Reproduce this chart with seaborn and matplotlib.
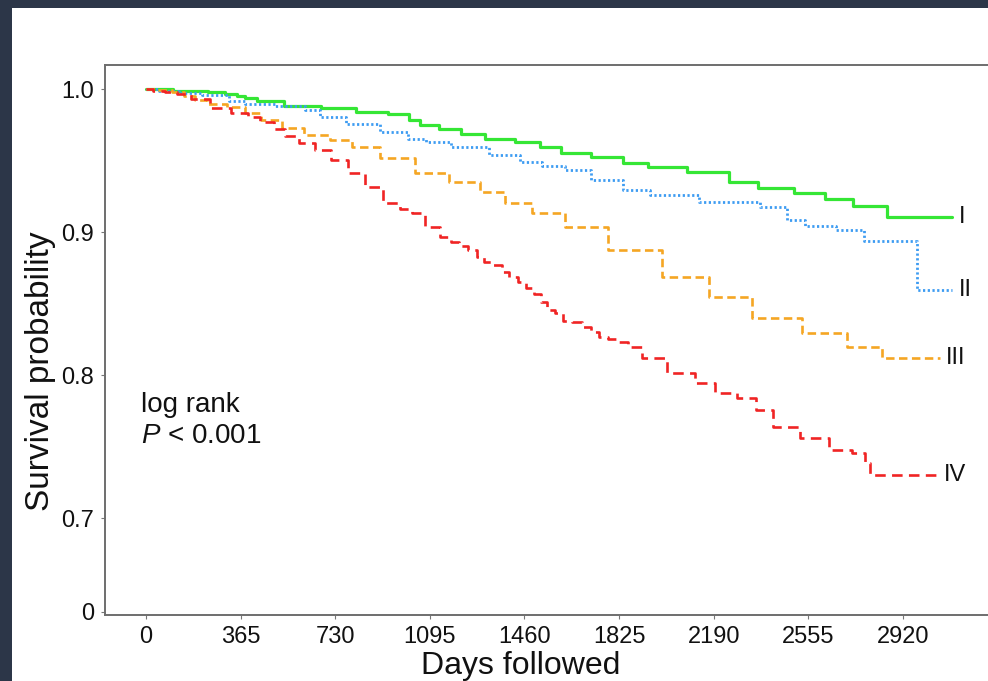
import numpy as np
import pandas as pd
import matplotlib
matplotlib.use("Agg")
import matplotlib.pyplot as plt
import seaborn as sns
from matplotlib.patches import Rectangle

# ---------------- data ----------------
stages = ["I", "II", "III", "IV"]

days_I = [0, 208, 274, 336, 363, 401, 459, 606, 748, 876, 992, 1038, 1076, 1184, 1250,
          1366, 1481, 1559, 1644, 1790, 1887, 1983, 2188, 2311, 2407, 2589, 2650, 2801,
          2855, 2859, 3110]
surv_I = [1.0, 0.999, 0.998, 0.997, 0.9957, 0.9943, 0.992, 0.9887, 0.9868, 0.9845, 0.983,
          0.9787, 0.975, 0.9724, 0.9689, 0.9654, 0.963, 0.9596, 0.9554, 0.953, 0.9484,
          0.946, 0.9425, 0.9355, 0.9313, 0.9278, 0.9236, 0.9187, 0.9187, 0.911, 0.911]

days_II = [0, 100, 158, 274, 363, 401, 594, 633, 710, 837, 968, 1057, 1107, 1250, 1393,
           1493, 1559, 1674, 1763, 1917, 1971, 2292, 2446, 2496, 2589, 2735, 2801, 2970,
           2978, 3110]
surv_II = [1.0, 0.999, 0.9973, 0.996, 0.992, 0.990, 0.9887, 0.9857, 0.981, 0.976, 0.9705,
           0.9654, 0.9635, 0.9596, 0.9542, 0.9495, 0.9465, 0.9437, 0.9367, 0.9297, 0.9262,
           0.9215, 0.918, 0.9087, 0.9048, 0.9017, 0.894, 0.894, 0.8598, 0.8598]

days_III = [0, 81, 120, 170, 208, 266, 363, 401, 490, 556, 660, 760, 826, 980, 1096, 1238,
            1339, 1431, 1547, 1686, 1879, 2099, 2241, 2434, 2627, 2782, 2897, 3063]
surv_III = [1.0, 0.9995, 0.998, 0.9957, 0.9927, 0.990, 0.988, 0.9834, 0.9787, 0.9729,
            0.9682, 0.9647, 0.960, 0.9519, 0.9414, 0.9355, 0.9285, 0.9204, 0.9134, 0.904,
            0.888, 0.869, 0.855, 0.840, 0.8295, 0.820, 0.812, 0.812]

days_IV = [0, 54, 93, 143, 208, 285, 374, 413, 467, 517, 556, 621, 683, 748, 814, 876, 953,
           1007, 1046, 1107, 1161, 1192, 1223, 1262, 1289, 1319, 1358, 1385, 1416, 1451,
           1481, 1512, 1535, 1559, 1597, 1620, 1663, 1698, 1732, 1763, 1802, 1840, 1879,
           1944, 2072, 2164, 2226, 2330, 2380, 2458, 2589, 2677, 2766, 2782, 2801, 3052]
surv_IV = [1.0, 0.999, 0.998, 0.9969, 0.9931, 0.9873, 0.9834, 0.9806, 0.9775, 0.9724,
           0.9675, 0.9624, 0.9577, 0.9507, 0.9414, 0.932, 0.9204, 0.9164, 0.9134, 0.904,
           0.897, 0.8936, 0.8906, 0.8878, 0.883, 0.879, 0.8773, 0.8722, 0.8687, 0.8652,
           0.8614, 0.857, 0.8516, 0.8458, 0.8435, 0.8383, 0.8376, 0.8337, 0.8306, 0.8271,
           0.8253, 0.8232, 0.8197, 0.812, 0.8015, 0.7945, 0.7875, 0.784, 0.7759, 0.7642,
           0.756, 0.7479, 0.7455, 0.7386, 0.7304, 0.7304]

x_ticks = [0, 365, 730, 1095, 1460, 1825, 2190, 2555, 2920]
y_ticks = [0.6346, 0.7, 0.8, 0.9, 1.0]
y_tick_labels = ["0", "0.7", "0.8", "0.9", "1.0"]

series = {
    "I": (days_I, surv_I),
    "II": (days_II, surv_II),
    "III": (days_III, surv_III),
    "IV": (days_IV, surv_IV),
}
colors = {"I": "#35e635", "II": "#3d9cf2", "III": "#f5a623", "IV": "#f02424"}
styles = {"I": "-", "II": (0, (0.8, 0.9)), "III": (0, (3.2, 1.7)), "IV": (0, (4.0, 2.4))}
widths = {"I": 2.3, "II": 2.0, "III": 1.9, "IV": 1.9}

# ---------------- figure ----------------
sns.set_theme(style="white")
plt.rcParams["font.family"] = ["Liberation Sans", "DejaVu Sans"]
plt.rcParams["mathtext.fontset"] = "custom"
plt.rcParams["mathtext.it"] = "Liberation Sans:italic"
plt.rcParams["mathtext.rm"] = "Liberation Sans"

fig = plt.figure(figsize=(9.88, 6.81), dpi=100)
fig.patch.set_facecolor("white")
dark = "#2c3648"
fig.patches.append(Rectangle((0, 1 - 8 / 681), 1, 8 / 681, transform=fig.transFigure,
                             facecolor=dark, edgecolor="none", zorder=-10))
fig.patches.append(Rectangle((0, 0), 12 / 988, 1, transform=fig.transFigure,
                             facecolor=dark, edgecolor="none", zorder=-10))

ax = fig.add_axes([105 / 988, 66 / 681, 1 - 105 / 988, 616 / 681 - 66 / 681])
ax.set_facecolor("white")

for st in stages:
    d, s = series[st]
    df = pd.DataFrame({"days": d, "surv": s})
    sns.lineplot(data=df, x="days", y="surv", ax=ax, color=colors[st],
                 drawstyle="steps-mid", estimator=None, linewidth=widths[st])
    line = ax.lines[-1]
    line.set_linestyle(styles[st])
    ax.text(d[-1] + 24, s[-1], st, ha="left", va="center", fontsize=17, color="#111111")

ax.set_xlim(-158, 3248)
ax.set_ylim(0.6325, 1.0171)
ax.set_xticks(x_ticks)
ax.set_xticklabels([str(t) for t in x_ticks], fontsize=17)
ax.set_yticks(y_ticks)
ax.set_yticklabels(y_tick_labels, fontsize=17)
ax.tick_params(axis="both", direction="out", length=3, width=0.8, color="#777777",
               labelcolor="#111111", pad=5)
ax.tick_params(axis="x", which="both", bottom=True)
ax.tick_params(axis="y", which="both", left=True)

for side in ["left", "bottom", "top"]:
    ax.spines[side].set_visible(True)
    ax.spines[side].set_color("#6e6e6e")
    ax.spines[side].set_linewidth(1.4)
ax.spines["right"].set_visible(False)

ax.set_xlabel("Days followed", fontsize=23, color="#111111")
ax.set_ylabel("Survival probability", fontsize=24, color="#111111")
ax.xaxis.set_label_coords((521 - 105) / 883, -(666 - 615) / 550, transform=ax.transAxes)
ax.xaxis.label.set_va("center")
ax.yaxis.set_label_coords((40 - 105) / 883, (615 - 371) / 550, transform=ax.transAxes)
ax.yaxis.label.set_va("center")

ax.text(-19, 0.7794, "log rank", ha="left", va="center", fontsize=20, color="#111111")
ax.text(-19, 0.7577, r"$P$ < 0.001", ha="left", va="center", fontsize=20, color="#111111")

fig.savefig("out.png", dpi=100, facecolor=fig.get_facecolor())
